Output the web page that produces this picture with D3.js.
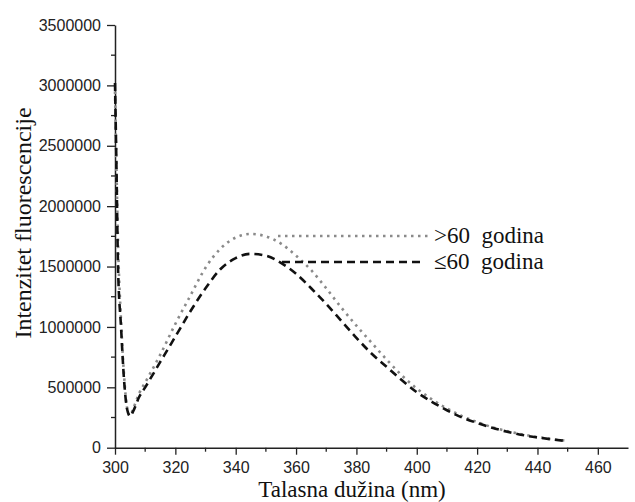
<!DOCTYPE html>
<html>
<head>
<meta charset="utf-8">
<script src="https://cdn.jsdelivr.net/npm/d3@7"></script>
<style>
  html, body { margin: 0; padding: 0; background: #fff; }
  svg { display: block; }
  .serif { font-family: "Liberation Serif", "DejaVu Serif", serif; }
  .sans { font-family: "Liberation Sans", Arial, sans-serif; }
</style>
</head>
<body>
<div id="chart"></div>
<script>
// Wavelengths (nm)
const wavelengths = [300, 300.5, 301, 302, 303, 304, 305, 306, 308, 310, 315, 320, 325, 330, 335, 340, 345, 350, 355, 360, 365, 370, 375, 380, 385, 390, 395, 400, 405, 410, 415, 420, 425, 430, 435, 440, 445, 450];
// >60 godina (gray dotted)
const over60 = [2950000, 2300000, 1700000, 1050000, 600000, 330000, 265000, 320000, 450000, 540000, 770000, 1025000, 1260000, 1490000, 1650000, 1740000, 1770000, 1750000, 1690000, 1590000, 1470000, 1320000, 1160000, 1010000, 870000, 730000, 600000, 490000, 400000, 325000, 262000, 212000, 170000, 137000, 110000, 88000, 70000, 57000];
// ≤60 godina (black dashed)
const upTo60 = [3020000, 2300000, 1500000, 1000000, 560000, 320000, 260000, 300000, 420000, 500000, 710000, 920000, 1130000, 1320000, 1480000, 1570000, 1605000, 1590000, 1530000, 1440000, 1320000, 1190000, 1050000, 910000, 780000, 670000, 560000, 460000, 380000, 310000, 250000, 205000, 165000, 132000, 105000, 85000, 68000, 55000];
const xTicks = [300, 320, 340, 360, 380, 400, 420, 440, 460];
const yTicks = [0, 500000, 1000000, 1500000, 2000000, 2500000, 3000000, 3500000];
const seriesNames = [">60  godina", "\u226460  godina"];

const W = 635, H = 502;
const margin = {left: 115, top: 25, right: 7, bottom: 55};
const svg = d3.select("#chart").append("svg").attr("width", W).attr("height", H);

const x = d3.scaleLinear().domain([300, 470]).range([margin.left, W - margin.right]);
const y = d3.scaleLinear().domain([0, 3500000]).range([H - margin.bottom + 0.7, margin.top]);

// minor ticks
const xMinor = d3.range(310, 470, 20);
const yMinor = d3.range(250000, 3500000, 500000);
svg.append("g").selectAll("line").data(xMinor).join("line")
  .attr("x1", d => x(d)).attr("x2", d => x(d))
  .attr("y1", y(0)).attr("y2", y(0) + 4)
  .attr("stroke", "#222").attr("stroke-width", 1.3);
svg.append("g").selectAll("line").data(yMinor).join("line")
  .attr("y1", d => y(d)).attr("y2", d => y(d))
  .attr("x1", x(300)).attr("x2", x(300) - 4)
  .attr("stroke", "#222").attr("stroke-width", 1.3);

const xAxis = svg.append("g").attr("transform", `translate(0,${y(0)})`)
  .call(d3.axisBottom(x).tickValues(xTicks).tickSize(7).tickPadding(7).tickSizeOuter(0));
const yAxis = svg.append("g").attr("transform", `translate(${x(300)},0)`)
  .call(d3.axisLeft(y).tickValues(yTicks).tickSize(8).tickPadding(6).tickSizeOuter(0).tickFormat(d3.format("d")));
[xAxis, yAxis].forEach(g => {
  g.attr("font-family", null).attr("font-size", null);
  g.select(".domain").attr("stroke", "#222").attr("stroke-width", 1.5);
  g.selectAll(".tick line").attr("stroke", "#222").attr("stroke-width", 1.3);
  g.selectAll(".tick text").attr("fill", "#222").attr("class", "sans")
    .attr("font-size", 16);
});

const line = d3.line().x(d => x(d[0])).y(d => y(d[1])).curve(d3.curveMonotoneX);

svg.append("path").datum(wavelengths.map((w, i) => [w, over60[i]]))
  .attr("d", line).attr("fill", "none")
  .attr("stroke", "#8a8a8a").attr("stroke-width", 2.6)
  .attr("stroke-dasharray", "2.5,4.5");
svg.append("path").datum(wavelengths.map((w, i) => [w, upTo60[i]]))
  .attr("d", line).attr("fill", "none")
  .attr("stroke", "#111").attr("stroke-width", 2.6)
  .attr("stroke-dasharray", "8,5");

// legend
const leg = svg.append("g");
leg.append("line").attr("x1", 278).attr("x2", 428).attr("y1", 236).attr("y2", 236)
  .attr("stroke", "#8a8a8a").attr("stroke-width", 2.6).attr("stroke-dasharray", "2.5,4.5");
leg.append("line").attr("x1", 282).attr("x2", 425).attr("y1", 262).attr("y2", 262)
  .attr("stroke", "#111").attr("stroke-width", 2.6).attr("stroke-dasharray", "8,5");
leg.selectAll("text").data(seriesNames).join("text")
  .attr("class", "serif")
  .attr("x", 434).attr("y", (d, i) => 243 + i * 26)
  .attr("fill", "#111").attr("xml:space", "preserve").style("white-space", "pre")
  .attr("font-size", 23)
  .text(d => d);

// axis titles
svg.append("text").attr("class", "serif")
  .attr("x", 352).attr("y", 497)
  .attr("text-anchor", "middle").attr("fill", "#111").attr("font-size", 23)
  .text("Talasna du\u017Eina (nm)");
svg.append("text").attr("class", "serif")
  .attr("transform", "translate(31,223) rotate(-90)")
  .attr("text-anchor", "middle").attr("fill", "#111").attr("font-size", 24)
  .text("Intenzitet fluorescencije");
</script>
</body>
</html>
